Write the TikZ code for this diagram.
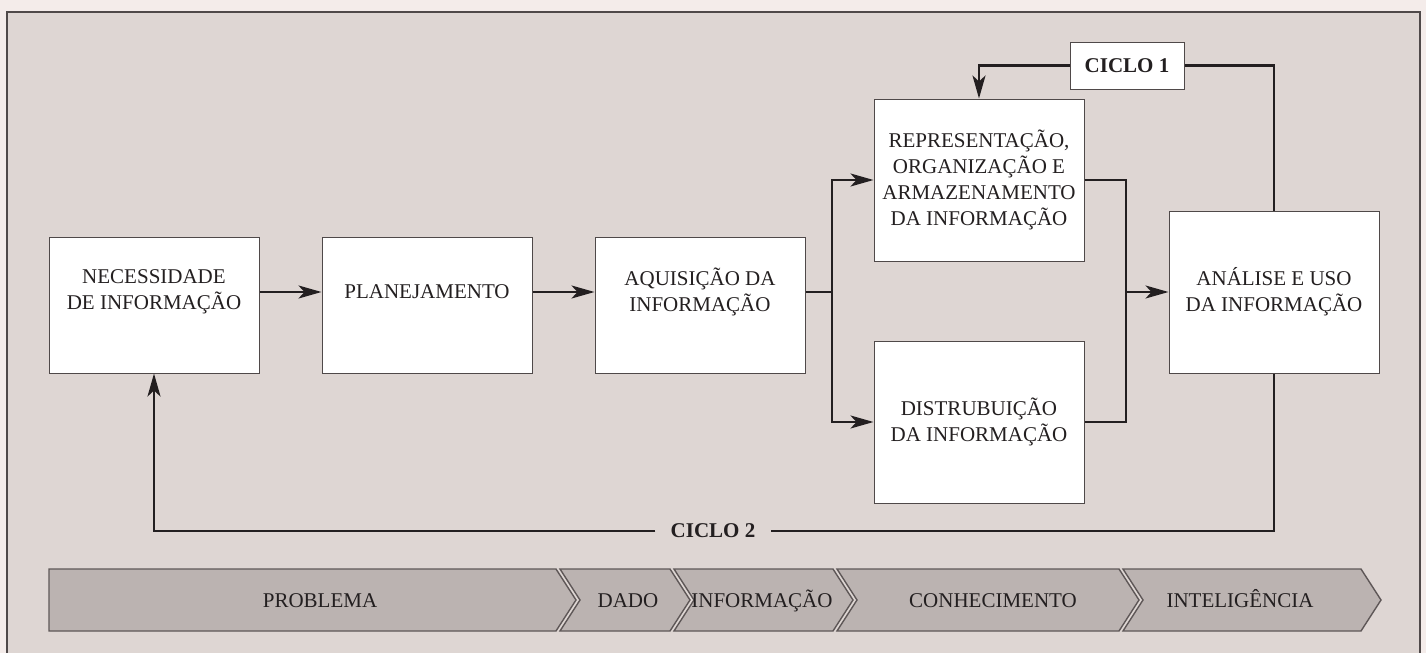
\documentclass[tikz,border=0pt]{standalone}
\usepackage{fontspec}
\setmainfont{Liberation Serif}
\usetikzlibrary{arrows.meta,positioning}
\definecolor{page}{HTML}{F4ECEA}
\definecolor{panel}{HTML}{DED6D3}
\definecolor{ink}{HTML}{231F20}
\definecolor{rim}{HTML}{4F4949}
\definecolor{band}{HTML}{BBB3B1}
\definecolor{bandrim}{HTML}{5E5757}
\begin{document}
\begin{tikzpicture}[x=0.5pt,y=-0.5pt,node distance=31pt,text=ink,
  font=\fontsize{10.5}{13}\selectfont,
  box/.style={draw=rim,fill=white,line width=0.5pt,minimum width=105pt,minimum height=68pt,inner sep=0pt},
  tallbox/.style={box,minimum height=81pt,align=center},
  lbl/.style={align=center,inner sep=0pt},
  wire/.style={ink,line width=1.3pt},
  arr/.style={wire,-{Stealth[length=11.5pt,width=6.5pt,inset=3pt]}},
  band/.style={draw=bandrim,fill=band,line width=0.7pt,line join=miter}]
\useasboundingbox (0,0) rectangle (1426,653);
\fill[page] (0,0) rectangle (1426,653);
\fill[panel] (7,12) rectangle (1420,653);
\draw[rim,line width=0.8pt] (7,653) -- (7,12) -- (1420,12) -- (1420,653);
% linha principal
\node[box] (nec) at (154,305) {};
\node[box,right=of nec] (plan) {};
\node[box,right=of plan] (aq) {};
\node[lbl] (nec-t) at (nec|-0,292) {NECESSIDADE\\DE INFORMAÇÃO};
\node[lbl] (plan-t) at (plan|-0,292) {PLANEJAMENTO};
\node[lbl] (aq-t) at (aq|-0,292) {AQUISIÇÃO DA\\INFORMAÇÃO};
\node[tallbox] (rep) at (979,180) {REPRESENTAÇÃO,\\ORGANIZAÇÃO E\\ARMAZENAMENTO\\DA INFORMAÇÃO};
\node[tallbox] (dis) at (979,422) {DISTRUBUIÇÃO\\DA INFORMAÇÃO};
\node[tallbox] (an) at (1274,292) {ANÁLISE E USO\\DA INFORMAÇÃO};
\node[draw=rim,fill=white,line width=0.5pt,font=\fontsize{10.5}{13}\selectfont\bfseries,minimum width=57pt,minimum height=23.5pt,inner sep=0pt] (c1) at (1127,65.5) {CICLO 1};
\node[fill=panel,font=\fontsize{10.5}{13}\selectfont\bfseries,inner xsep=7.5pt,inner ysep=2pt] (c2) at (713,531) {CICLO 2};
\coordinate (split) at (832,292);
\coordinate (merge) at (1126,292);
\foreach \a/\b in {nec/plan,plan/aq}{\draw[arr] (\a.east|-\a-t) -- (\b.west|-\a-t);}
\draw[wire] (aq.east|-aq-t) -- (split);
\draw[arr] (split) |- (rep.west);
\draw[arr] (split) |- (dis.west);
\draw[wire] (rep.east) -| (merge) |- (dis.east);
\draw[arr] (merge) -- (an.west);
% ciclos
\draw[wire] (an.north) |- (c1.east);
\draw[arr] (c1.west) -| (rep.north);
\draw[wire] (an.south) |- (c2.east);
\draw[arr] (c2.west) -| (nec.south);
% faixa inferior
\foreach \l/\r/\d/\c/\t [count=\i] in {49/556/0/320/PROBLEMA,560/670/20/628/DADO,674/833/20/762/INFORMAÇÃO,837/1119/20/993/CONHECIMENTO,1123/1361/20/1240/INTELIGÊNCIA}{
  \draw[band] (\l,569) -- (\r,569) -- (\r+20,600) -- (\r,631) -- (\l,631) -- (\l+\d,600) -- cycle;
  \node[anchor=base,inner sep=0pt] (seg\i) at (\c,607) {\t};
}
\end{tikzpicture}
\end{document}
